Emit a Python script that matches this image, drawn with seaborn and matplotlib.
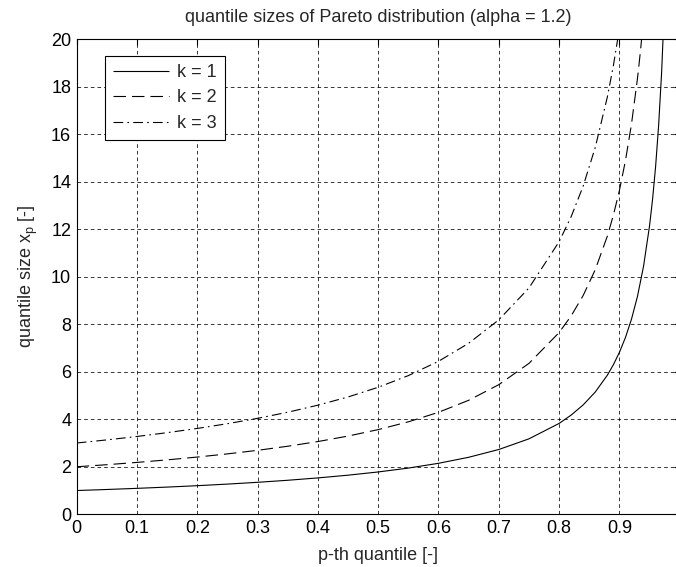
import matplotlib
matplotlib.use("Agg")
import matplotlib.pyplot as plt
import seaborn as sns
import pandas as pd

# ---- data ----
p_k1 = [0, 0.05, 0.1, 0.15, 0.2, 0.25, 0.3, 0.35, 0.4, 0.45, 0.5, 0.55, 0.6, 0.65, 0.7,
        0.75, 0.8, 0.82, 0.84, 0.86, 0.88, 0.89, 0.9, 0.91, 0.92, 0.93, 0.94, 0.95, 0.955,
        0.96, 0.965, 0.97, 0.975]
x_k1 = [1.0, 1.044, 1.092, 1.145, 1.204, 1.271, 1.346, 1.432, 1.531, 1.646, 1.782, 1.945,
        2.146, 2.399, 2.727, 3.175, 3.824, 4.175, 4.605, 5.147, 5.853, 6.293, 6.813, 7.438,
        8.206, 9.172, 10.429, 12.140, 13.254, 14.621, 16.342, 18.582, 21.630]

p_k2 = [0, 0.05, 0.1, 0.15, 0.2, 0.25, 0.3, 0.35, 0.4, 0.45, 0.5, 0.55, 0.6, 0.65, 0.7,
        0.75, 0.8, 0.82, 0.84, 0.86, 0.88, 0.89, 0.9, 0.91, 0.92, 0.93, 0.935, 0.94]
x_k2 = [2.0, 2.087, 2.184, 2.290, 2.409, 2.542, 2.692, 2.864, 3.061, 3.292, 3.564, 3.891,
        4.292, 4.797, 5.455, 6.350, 7.647, 8.349, 9.211, 10.295, 11.705, 12.586, 13.626,
        14.877, 16.411, 18.343, 19.509, 20.857]

p_k3 = [0, 0.05, 0.1, 0.15, 0.2, 0.25, 0.3, 0.35, 0.4, 0.45, 0.5, 0.55, 0.6, 0.65, 0.7,
        0.75, 0.8, 0.82, 0.84, 0.86, 0.88, 0.89, 0.9]
x_k3 = [3.0, 3.131, 3.275, 3.435, 3.613, 3.813, 4.038, 4.295, 4.592, 4.937, 5.345, 5.836,
        6.438, 7.196, 8.182, 9.524, 11.471, 12.524, 13.816, 15.442, 17.558, 18.878, 20.439]

labels = ["k = 1", "k = 2", "k = 3"]
x_ticks = [0, 0.1, 0.2, 0.3, 0.4, 0.5, 0.6, 0.7, 0.8, 0.9]
y_ticks = [0, 2, 4, 6, 8, 10, 12, 14, 16, 18, 20]

sns.set_style("white")
plt.rcParams["font.family"] = ["Liberation Sans", "DejaVu Sans"]
plt.rcParams["lines.scale_dashes"] = False
plt.rcParams["mathtext.fontset"] = "custom"
plt.rcParams["mathtext.rm"] = "Liberation Sans"

FS = 13
fig = plt.figure(figsize=(6.76, 5.67), dpi=100)
fig.patch.set_facecolor("white")
W, H = 676, 567
x0, x1, ytop, ybot = 76.7, 679.7, 39.0, 514.3
ax = fig.add_axes([x0 / W, (H - ybot) / H, (x1 - x0) / W, (ybot - ytop) / H])
ax.set_facecolor("white")

styles = [(0, ()), (0, (9.0, 4.3)), (0, (7.0, 3.0, 1.2, 3.0))]
for p, v, lab, ls in zip([p_k1, p_k2, p_k3], [x_k1, x_k2, x_k3], labels, styles):
    df = pd.DataFrame({"p": p, "x": v})
    sns.lineplot(data=df, x="p", y="x", ax=ax, color="black", linewidth=0.8,
                 linestyle=ls, label=lab, sort=False)

ax.set_xlim(0, 1)
ax.set_ylim(0, 20)
ax.set_xticks(x_ticks)
ax.set_xticklabels([f"{t:g}" for t in x_ticks])
ax.set_yticks(y_ticks)
ax.grid(True, color="black", linestyle=(0, (2.6, 2.2)), linewidth=0.55)
ax.tick_params(direction="in", length=4, width=0.8, top=True, right=True,
               labelsize=FS, pad=4, colors="black")
for s in ax.spines.values():
    s.set_color("black")
    s.set_linewidth(0.8)

ax.set_title("quantile sizes of Pareto distribution (alpha = 1.2)", fontsize=FS, pad=12)
ax.set_xlabel("p-th quantile [-]", fontsize=FS, labelpad=7)
ax.set_ylabel(r"quantile size x$_\mathregular{p}$ [-]", fontsize=FS, labelpad=8)

leg = ax.legend(loc="upper left", bbox_to_anchor=(28.3 / (x1 - x0), 1 - 16.7 / (ybot - ytop)),
                fontsize=FS, frameon=True, fancybox=False, framealpha=1,
                edgecolor="black", handlelength=3.1, handletextpad=0.45,
                borderpad=0.45, labelspacing=0.48, borderaxespad=0)
leg.get_frame().set_linewidth(0.8)

fig.savefig("out.png", dpi=100, facecolor="white")
